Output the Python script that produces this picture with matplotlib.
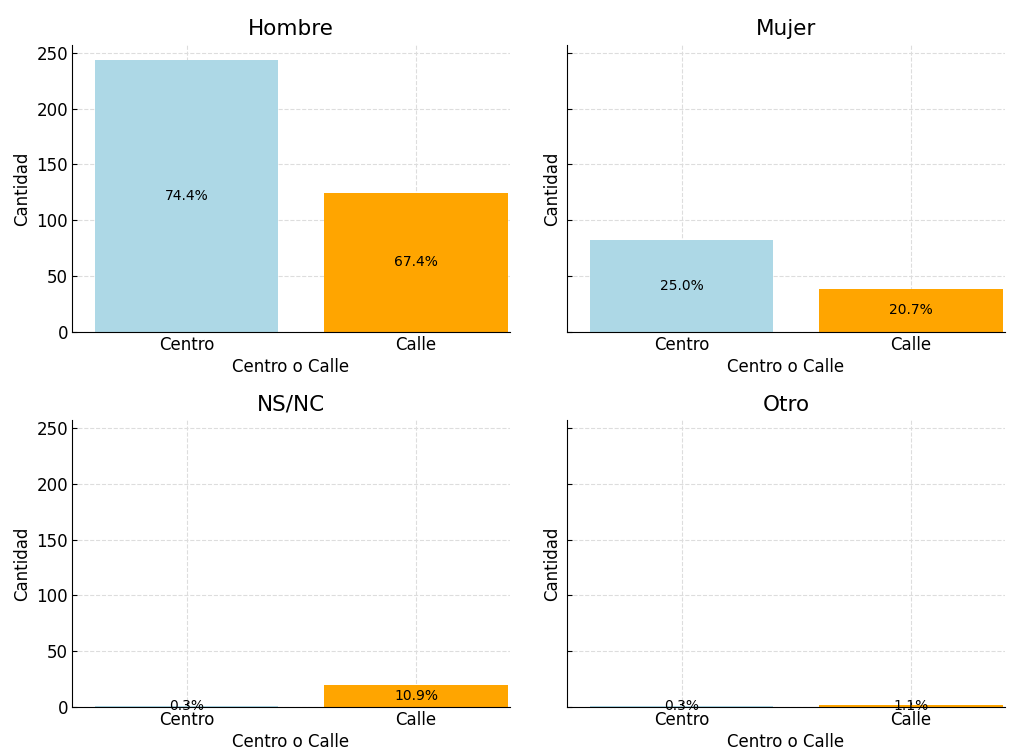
import matplotlib.pyplot as plt

# Datos
generos = ['Hombre', 'Mujer', 'NS/NC', 'Otro']
categorias = ['Centro', 'Calle']
centro = [244, 82, 1, 1]
calle = [124, 38, 20, 2]
pct_centro = ['74.4%', '25.0%', '0.3%', '0.3%']
pct_calle = ['67.4%', '20.7%', '10.9%', '1.1%']
colores = ['lightblue', 'orange']

fig, axes = plt.subplots(2, 2, figsize=(10.09, 7.51), dpi=100, sharey=True)
fig.subplots_adjust(left=0.0714, right=0.996, top=0.94, bottom=0.0586,
                    wspace=0.13, hspace=0.31)

for ax, g, c1, c2, p1, p2 in zip(axes.flat, generos, centro, calle, pct_centro, pct_calle):
    valores = [c1, c2]
    barras = ax.bar(categorias, valores, color=colores, width=0.8, zorder=2)
    # porcentaje en el centro de cada barra
    for b, p in zip(barras, [p1, p2]):
        ax.text(b.get_x() + b.get_width() / 2, b.get_height() / 2, p,
                ha='center', va='center', fontsize=10, color='black', zorder=3)
    ax.set_title(g, fontsize=15.5, pad=7)
    ax.set_xlabel('Centro o Calle', fontsize=12, labelpad=3)
    ax.set_ylabel('Cantidad', fontsize=12)
    ax.grid(True, linestyle='--', color='#dddddd', linewidth=0.8, zorder=0)
    ax.spines['top'].set_visible(False)
    ax.spines['right'].set_visible(False)
    ax.tick_params(direction='in', labelsize=12, pad=3)
    ax.set_xlim(-0.5, 1.41)

axes[0, 0].set_ylim(0, 257)
for ax in axes[:, 1]:
    ax.tick_params(labelleft=False)

plt.savefig('out.png', dpi=100)
